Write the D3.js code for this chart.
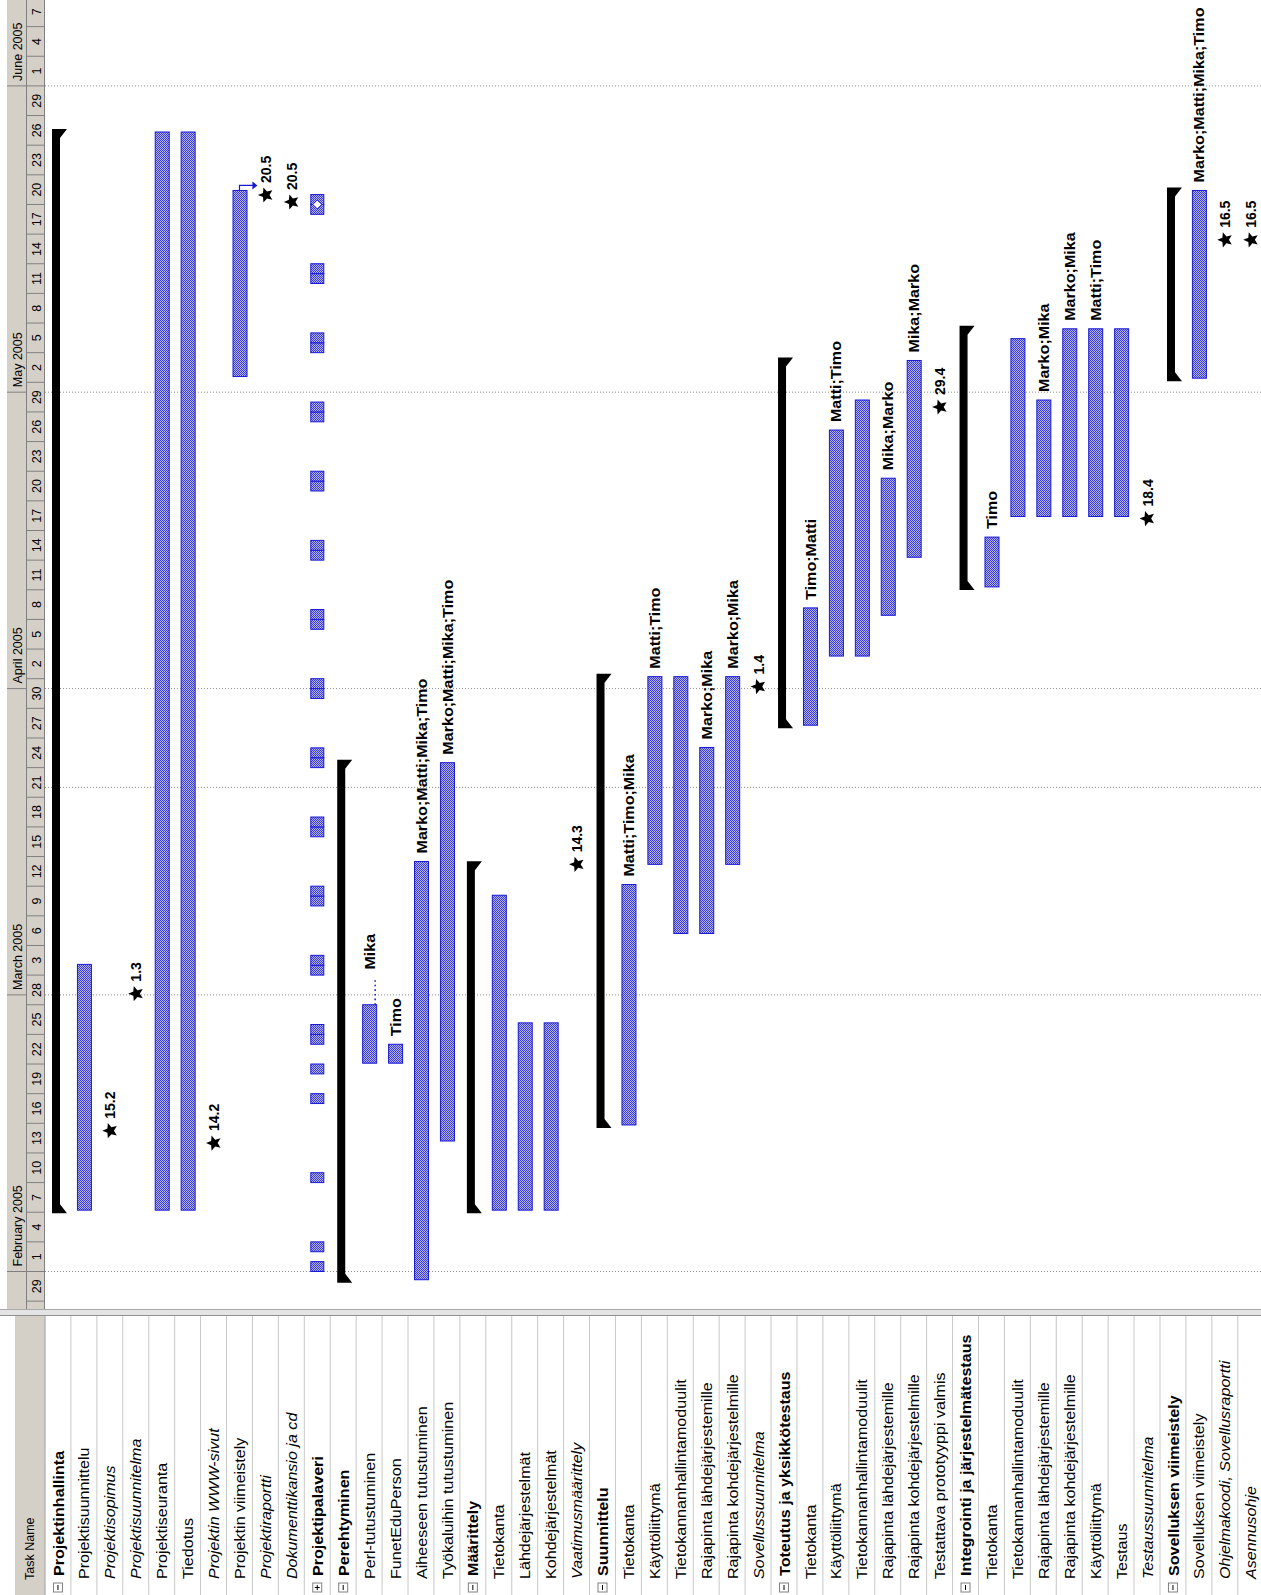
<!DOCTYPE html>
<html>
<head>
<meta charset="utf-8">
<script src="https://cdn.jsdelivr.net/npm/d3@7"></script>
<style>
  html, body { margin: 0; padding: 0; background: #ffffff; }
  svg { display: block; }
  text { font-family: "Liberation Sans", Arial, sans-serif; }
</style>
</head>
<body>
<svg id="chart" width="1261" height="1595"></svg>
<script>
// ---------------------------------------------------------------------------
// Project plan data
// ---------------------------------------------------------------------------
const taskNames = [
  "Projektinhallinta", "Projektisuunnittelu", "Projektisopimus", "Projektisuunnitelma",
  "Projektiseuranta", "Tiedotus", "Projektin WWW-sivut", "Projektin viimeistely",
  "Projektiraportti", "Dokumenttikansio ja cd", "Projektipalaveri", "Perehtyminen",
  "Perl-tutustuminen", "FunetEduPerson", "Aiheeseen tutustuminen", "Työkaluihin tutustuminen",
  "Määrittely", "Tietokanta", "Lähdejärjestelmät", "Kohdejärjestelmät",
  "Vaatimusmäärittely", "Suunnittelu", "Tietokanta", "Käyttöliittymä",
  "Tietokannanhallintamoduulit", "Rajapinta lähdejärjestemille", "Rajapinta kohdejärjestelmille", "Sovellussuunnitelma",
  "Toteutus ja yksikkötestaus", "Tietokanta", "Käyttöliittymä", "Tietokannanhallintamoduulit",
  "Rajapinta lähdejärjestemille", "Rajapinta kohdejärjestelmille", "Testattava prototyyppi valmis", "Integrointi ja järjestelmätestaus",
  "Tietokanta", "Tietokannanhallintamoduulit", "Rajapinta lähdejärjestemille", "Rajapinta kohdejärjestelmille",
  "Käyttöliittymä", "Testaus", "Testaussuunnitelma", "Sovelluksen viimeistely",
  "Sovelluksen viimeistely", "Ohjelmakoodi, Sovellusraportti", "Asennusohje"
];

// S = summary, T = task, M = milestone, R = recurring task
const taskKind = [
  "S","T","M","M","T","T","M","T","M","M","R","S","T","T","T","T",
  "S","T","T","T","M","S","T","T","T","T","T","M","S","T","T","T",
  "T","T","M","S","T","T","T","T","T","T","M","S","T","M","M"
];

// outline parent of every row (-1 = top level)
const parentRow = [
  -1, 0, 0, 0, 0, 0, 0, 0, 0, 0, -1, -1, 11, 11, 11, 11,
  -1, 16, 16, 16, 16, -1, 21, 21, 21, 21, 21, 21, -1, 28, 28, 28,
  28, 28, 28, -1, 35, 35, 35, 35, 35, 35, 35, -1, 43, 43, 43
];

const italicRows = [2, 3, 6, 8, 9, 20, 27, 42, 45, 46];

const taskStart = {
  1: "2005-02-07T05:00", 4: "2005-02-07T05:00", 5: "2005-02-07T05:00",
  7: "2005-05-02T14:00", 12: "2005-02-22T02:00", 13: "2005-02-22T02:00",
  14: "2005-01-31T04:00", 15: "2005-02-14T05:00", 17: "2005-02-07T05:00",
  18: "2005-02-07T05:00", 19: "2005-02-07T05:00", 22: "2005-02-15T20:00",
  23: "2005-03-14T05:00", 24: "2005-03-07T05:00", 25: "2005-03-07T05:00",
  26: "2005-03-14T05:00", 29: "2005-03-28T07:00", 30: "2005-04-04T07:00",
  31: "2005-04-04T07:00", 32: "2005-04-08T10:00", 33: "2005-04-14T07:00",
  36: "2005-04-11T07:00", 37: "2005-04-18T10:00", 38: "2005-04-18T10:00",
  39: "2005-04-18T10:00", 40: "2005-04-18T10:00", 41: "2005-04-18T10:00",
  44: "2005-05-02T10:00"
};

const taskFinish = {
  1: "2005-03-04T02:00", 4: "2005-05-27T08:00", 5: "2005-05-27T08:00",
  7: "2005-05-21T10:00", 12: "2005-02-28T00:00", 13: "2005-02-24T00:00",
  14: "2005-03-14T12:00", 15: "2005-03-24T12:00", 17: "2005-03-11T02:00",
  18: "2005-02-26T04:00", 19: "2005-02-26T04:00", 22: "2005-03-12T04:00",
  23: "2005-04-02T05:00", 24: "2005-04-02T05:00", 25: "2005-03-26T01:00",
  26: "2005-04-02T05:00", 29: "2005-04-09T04:00", 30: "2005-04-27T04:00",
  31: "2005-04-30T05:00", 32: "2005-04-22T07:00", 33: "2005-05-04T05:00",
  36: "2005-04-16T08:00", 37: "2005-05-06T10:00", 38: "2005-04-30T05:00",
  39: "2005-05-07T10:00", 40: "2005-05-07T10:00", 41: "2005-05-07T10:00",
  44: "2005-05-21T10:00"
};

const milestoneDate = {
  2: "2005-02-15T06:00", 3: "2005-03-01T03:00", 6: "2005-02-14T00:00",
  8: "2005-05-20T23:00", 9: "2005-05-20T06:00", 20: "2005-03-14T05:00",
  27: "2005-04-01T05:00", 34: "2005-04-29T12:00", 42: "2005-04-18T05:00",
  45: "2005-05-16T10:00", 46: "2005-05-16T10:00"
};

const resourceNames = {
  12: "Mika", 13: "Timo", 14: "Marko;Matti;Mika;Timo", 15: "Marko;Matti;Mika;Timo",
  22: "Matti;Timo;Mika", 23: "Matti;Timo", 25: "Marko;Mika", 26: "Marko;Mika",
  29: "Timo;Matti", 30: "Matti;Timo", 32: "Mika;Marko", 33: "Mika;Marko",
  36: "Timo", 38: "Marko;Mika", 39: "Marko;Mika", 40: "Matti;Timo",
  44: "Marko;Matti;Mika;Timo"
};

// split (interrupted) part of Perl-tutustuminen
const splitRow = 12;
const splitUntil = "2005-03-02T18:00";

// finish-to-start link: Projektin viimeistely -> Projektiraportti
const links = [[7, 8]];

// Projektipalaveri occurrences (one working day each)
const meetingDays = [
  "2005-02-01", "2005-02-03", "2005-02-10", "2005-02-18", "2005-02-21",
  "2005-02-24", "2005-02-25", "2005-03-03", "2005-03-04", "2005-03-10",
  "2005-03-11", "2005-03-17", "2005-03-18", "2005-03-24", "2005-03-25",
  "2005-03-31", "2005-04-01", "2005-04-07", "2005-04-08", "2005-04-14",
  "2005-04-15", "2005-04-21", "2005-04-22", "2005-04-28", "2005-04-29",
  "2005-05-05", "2005-05-06", "2005-05-12", "2005-05-13", "2005-05-19",
  "2005-05-20"
];
const meetingMarker = "2005-05-20";

// timescale
const monthLabels = ["February 2005", "March 2005", "April 2005", "May 2005", "June 2005"];
const monthStarts = ["2005-02-01", "2005-03-01", "2005-04-01", "2005-05-01", "2005-06-01"];
const dayCellFirst = "2005-01-29";
const dayCellStop = "2005-06-10";
const gridDates = ["2005-02-01", "2005-03-01", "2005-03-22", "2005-04-01", "2005-05-01", "2005-06-01"];

// ---------------------------------------------------------------------------
// Layout (the Gantt view is laid out horizontally, then turned a quarter turn)
// ---------------------------------------------------------------------------
const W = 1261, H = 1595;         // page size
const LEN = H, DEPTH = W;         // unrotated frame: LEN along time, DEPTH across rows
const tableEnd = 279, splitEnd = 286;
const headTop = 7, headMid = 26, headBot = 45;
const rowH = 25.93;

const parseFull = d3.utcParse("%Y-%m-%dT%H:%M");
const parseDay = d3.utcParse("%Y-%m-%d");
const toDate = s => (s.length > 10 ? parseFull(s) : parseDay(s));

const x = d3.scaleUtc()
  .domain([toDate("2005-02-01"), toDate("2005-06-01")])
  .range([323.5, 323.5 + 120 * 9.88]);

const rows = d3.range(taskNames.length);
const y = d3.scaleBand().domain(rows).range([headBot, headBot + rowH * rows.length]);
const rowMid = i => y(i) + y.bandwidth() / 2;

const BAR_BLUE = "#1818d8";

const svg = d3.select("#chart");
const defs = svg.append("defs");

const pat = defs.append("pattern").attr("id", "barFill")
  .attr("width", 2).attr("height", 2).attr("patternUnits", "userSpaceOnUse");
pat.append("rect").attr("width", 2).attr("height", 2).attr("fill", "#b4b4f4");
pat.append("rect").attr("width", 1).attr("height", 1).attr("fill", "#3c3cd0");
pat.append("rect").attr("x", 1).attr("y", 1).attr("width", 1).attr("height", 1).attr("fill", "#3c3cd0");

defs.append("clipPath").attr("id", "ganttClip")
  .append("rect").attr("x", splitEnd).attr("y", 0).attr("width", LEN - splitEnd).attr("height", DEPTH);

svg.append("rect").attr("width", W).attr("height", H).attr("fill", "#ffffff");

const root = svg.append("g").attr("transform", `translate(0,${H}) rotate(-90)`);

// ---------------------------------------------------------------------------
// Task table
// ---------------------------------------------------------------------------
const table = root.append("g");
table.append("rect").attr("x", 0).attr("y", 15).attr("width", tableEnd).attr("height", headBot - 15)
  .attr("fill", "#d4d0c8");
table.append("text").attr("x", 15).attr("y", 30).attr("dominant-baseline", "central")
  .attr("font-size", 12.5).attr("fill", "#000").text("Task Name");

table.selectAll("line.rowsep").data(d3.range(rows.length + 1)).join("line")
  .attr("x1", 0).attr("x2", tableEnd)
  .attr("y1", d => headBot + d * rowH).attr("y2", d => headBot + d * rowH)
  .attr("stroke", d => (d === 0 ? "#a0a0a0" : "#c8c8c8")).attr("stroke-width", 1);

// outline boxes for summary rows
const boxRows = rows.filter(i => taskKind[i] === "S" || taskKind[i] === "R");
const boxes = table.selectAll("g.box").data(boxRows).join("g")
  .attr("transform", i => `translate(3,${rowMid(i) - 4.5})`);
boxes.append("rect").attr("width", 9).attr("height", 9)
  .attr("fill", "#ffffff").attr("stroke", "#808080");
boxes.append("line").attr("x1", 2).attr("x2", 7).attr("y1", 4.5).attr("y2", 4.5).attr("stroke", "#000");
boxes.filter(i => taskKind[i] === "R").append("line")
  .attr("x1", 4.5).attr("x2", 4.5).attr("y1", 2).attr("y2", 7).attr("stroke", "#000");

table.selectAll("text.name").data(rows).join("text")
  .attr("class", "name")
  .attr("transform", i => {
    const u = (taskKind[i] === "S" || taskKind[i] === "R") ? 19 : 16;
    return `translate(${u},${rowMid(i) + 0.5}) scale(1.15,1)`;
  })
  .attr("dominant-baseline", "central")
  .attr("font-size", 14)
  .attr("font-weight", i => (taskKind[i] === "S" || taskKind[i] === "R") ? "bold" : "normal")
  .attr("font-style", i => italicRows.includes(i) ? "italic" : "normal")
  .attr("fill", "#000")
  .text(i => taskNames[i]);

// splitter between table and chart
root.append("rect").attr("x", tableEnd).attr("y", 0).attr("width", splitEnd - tableEnd).attr("height", DEPTH)
  .attr("fill", "#e4e4e4");
root.append("line").attr("x1", tableEnd + 0.5).attr("x2", tableEnd + 0.5).attr("y1", 0).attr("y2", DEPTH)
  .attr("stroke", "#909090");
root.append("line").attr("x1", splitEnd - 0.5).attr("x2", splitEnd - 0.5).attr("y1", 0).attr("y2", DEPTH)
  .attr("stroke", "#a8a8a8");

// ---------------------------------------------------------------------------
// Gantt chart
// ---------------------------------------------------------------------------
const chart = root.append("g").attr("clip-path", "url(#ganttClip)");

// timescale header
const head = chart.append("g");
head.append("rect").attr("x", splitEnd).attr("y", headTop).attr("width", LEN - splitEnd)
  .attr("height", headBot - headTop).attr("fill", "#d4d0c8");
head.append("line").attr("x1", splitEnd).attr("x2", LEN).attr("y1", headMid + 0.5).attr("y2", headMid + 0.5)
  .attr("stroke", "#808080");
head.append("line").attr("x1", splitEnd).attr("x2", LEN).attr("y1", headBot - 0.5).attr("y2", headBot - 0.5)
  .attr("stroke", "#808080");

const months = monthStarts.map(toDate);
head.selectAll("line.mon").data(months).join("line")
  .attr("x1", d => x(d)).attr("x2", d => x(d)).attr("y1", headTop).attr("y2", headMid)
  .attr("stroke", "#808080");
head.selectAll("text.mon").data(months).join("text")
  .attr("x", d => x(d) + 5).attr("y", (headTop + headMid) / 2 + 1)
  .attr("dominant-baseline", "central").attr("font-size", 12.5).attr("fill", "#000")
  .text((d, k) => monthLabels[k]);

const dayCells = d3.utcDay.range(toDate(dayCellFirst), toDate(dayCellStop), 3);
head.selectAll("line.day").data(dayCells).join("line")
  .attr("x1", d => x(d)).attr("x2", d => x(d)).attr("y1", headMid).attr("y2", headBot)
  .attr("stroke", "#808080");
head.selectAll("text.day").data(dayCells).join("text")
  .attr("x", d => x(d3.utcHour.offset(d, 36))).attr("y", (headMid + headBot) / 2 + 1)
  .attr("text-anchor", "middle").attr("dominant-baseline", "central")
  .attr("font-size", 12.5).attr("fill", "#000")
  .text(d => d3.utcFormat("%-d")(d));

// dotted gridlines
chart.selectAll("line.grid").data(gridDates.map(toDate)).join("line")
  .attr("x1", d => x(d)).attr("x2", d => x(d)).attr("y1", headBot).attr("y2", DEPTH)
  .attr("stroke", "#8c8c8c").attr("stroke-dasharray", "1,2");

// summary bars span their children
const span = i => {
  const kids = rows.filter(k => parentRow[k] === i);
  const starts = [], ends = [];
  kids.forEach(k => {
    if (taskStart[k]) starts.push(toDate(taskStart[k]));
    if (taskFinish[k]) ends.push(toDate(taskFinish[k]));
    if (milestoneDate[k]) { starts.push(toDate(milestoneDate[k])); ends.push(toDate(milestoneDate[k])); }
  });
  return [d3.min(starts), d3.max(ends)];
};

const summaryRows = rows.filter(i => taskKind[i] === "S");
chart.selectAll("path.summary").data(summaryRows).join("path")
  .attr("d", i => {
    const [s, f] = span(i);
    const u0 = x(s) - 3, u1 = x(f) + 3;
    const t = y(i) + 7, b = y(i) + 15, drop = 7, w = 9;
    return `M${u0},${t}H${u1}V${b + drop}L${u1 - w},${b}H${u0 + w}L${u0},${b + drop}Z`;
  })
  .attr("fill", "#000");

// task bars
const barRows = rows.filter(i => taskKind[i] === "T");
chart.selectAll("rect.bar").data(barRows).join("rect")
  .attr("x", i => x(toDate(taskStart[i])))
  .attr("y", i => y(i) + 6.5)
  .attr("width", i => x(toDate(taskFinish[i])) - x(toDate(taskStart[i])))
  .attr("height", 14)
  .attr("fill", "url(#barFill)").attr("stroke", BAR_BLUE).attr("stroke-width", 1);

// split continuation
chart.append("line")
  .attr("x1", x(toDate(taskFinish[splitRow]))).attr("x2", x(toDate(splitUntil)))
  .attr("y1", y(splitRow) + 19).attr("y2", y(splitRow) + 19)
  .attr("stroke", "#2020d0").attr("stroke-width", 1.6).attr("stroke-dasharray", "1.6,3");

// recurring meetings
const recRow = rows.find(i => taskKind[i] === "R");
chart.selectAll("rect.meet").data(meetingDays.map(toDate)).join("rect")
  .attr("x", d => x(d)).attr("y", y(recRow) + 6.5)
  .attr("width", d => x(d3.utcDay.offset(d, 1)) - x(d)).attr("height", 13)
  .attr("fill", "url(#barFill)").attr("stroke", BAR_BLUE).attr("stroke-width", 1);
chart.append("path")
  .attr("transform", `translate(${x(toDate(meetingMarker))},${y(recRow) + 13})`)
  .attr("d", "M0,-4.5L4.5,0L0,4.5L-4.5,0Z")
  .attr("fill", "#ffffff").attr("stroke", BAR_BLUE);

// resource names
const labelRows = Object.keys(resourceNames).map(Number);
chart.selectAll("text.res").data(labelRows).join("text")
  .attr("transform", i => {
    const end = i === splitRow ? toDate(splitUntil) : toDate(taskFinish[i]);
    return `translate(${x(end) + 8},${rowMid(i) + 0.5}) scale(1.15,1)`;
  })
  .attr("dominant-baseline", "central")
  .attr("font-size", 14).attr("font-weight", "bold").attr("fill", "#000")
  .text(i => resourceNames[i]);

// milestones: five-pointed star
const starPath = (R, ratio) => {
  const p = d3.path();
  d3.range(10).forEach(k => {
    const a = -Math.PI / 2 + k * Math.PI / 5;
    const r = k % 2 === 0 ? R : R * ratio;
    if (k === 0) p.moveTo(r * Math.cos(a), r * Math.sin(a));
    else p.lineTo(r * Math.cos(a), r * Math.sin(a));
  });
  p.closePath();
  return p.toString();
};
const msRows = Object.keys(milestoneDate).map(Number);
chart.selectAll("path.ms").data(msRows).join("path")
  .attr("transform", i => `translate(${x(toDate(milestoneDate[i]))},${rowMid(i) + 0.5})`)
  .attr("d", starPath(8, 0.45)).attr("fill", "#000");
const fmtDM = d3.utcFormat("%-d.%-m");
chart.selectAll("text.ms").data(msRows).join("text")
  .attr("transform", i => `translate(${x(toDate(milestoneDate[i])) + 12},${rowMid(i) + 0.5})`)
  .attr("dominant-baseline", "central")
  .attr("font-size", 14).attr("font-weight", "bold").attr("fill", "#000")
  .text(i => fmtDM(toDate(milestoneDate[i])));

// dependency arrows
links.forEach(([from, to]) => {
  const u = x(toDate(taskFinish[from]));
  const tip = rowMid(to) - 8;
  chart.append("path")
    .attr("d", `M${u},${rowMid(from)}H${u + 5}V${tip - 4}`)
    .attr("fill", "none").attr("stroke", BAR_BLUE).attr("stroke-width", 1.2);
  chart.append("path")
    .attr("d", `M${u + 1},${tip - 5}L${u + 9},${tip - 5}L${u + 5},${tip}Z`)
    .attr("fill", BAR_BLUE);
});
</script>
</body>
</html>
